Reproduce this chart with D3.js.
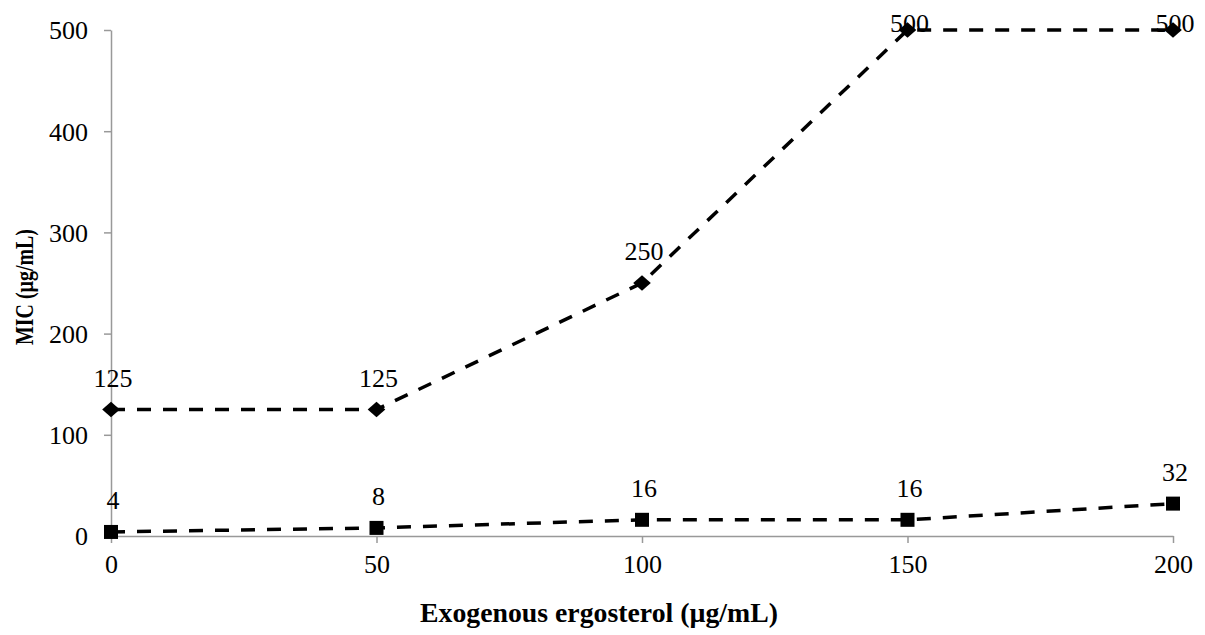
<!DOCTYPE html>
<html>
<head>
<meta charset="utf-8">
<script src="https://cdn.jsdelivr.net/npm/d3@7"></script>
<style>
  body { margin: 0; background: #fff; }
  svg text { font-family: "Liberation Serif", "Times New Roman", serif; }
</style>
</head>
<body>
<svg id="chart" width="1205" height="635"></svg>
<script>
// data
var ergosterol = [0, 50, 100, 150, 200];
var micHigh = [125, 125, 250, 500, 500];
var micLow = [4, 8, 16, 16, 32];
var xTicks = [0, 50, 100, 150, 200];
var yTicks = [0, 100, 200, 300, 400, 500];

var serif = "Liberation Serif, Times New Roman, serif";
var svg = d3.select("#chart");

var x = d3.scaleLinear().domain([0, 200]).range([111, 1173]);
var y = d3.scaleLinear().domain([0, 500]).range([536, 30]);

// axes
var gx = svg.append("g").attr("transform", "translate(0,536)")
    .call(d3.axisBottom(x).tickValues(xTicks).tickSize(7).tickPadding(12).tickSizeOuter(0));
var gy = svg.append("g").attr("transform", "translate(111,0)")
    .call(d3.axisLeft(y).tickValues(yTicks).tickSize(7).tickPadding(16).tickSizeOuter(0));

[gx, gy].forEach(function (g) {
    g.attr("font-family", serif).attr("font-size", 26);
    g.select(".domain").attr("stroke", "#999").attr("stroke-width", 1.5);
    g.selectAll(".tick line").attr("stroke", "#999").attr("stroke-width", 1.5);
    g.selectAll(".tick text").attr("fill", "#000");
});
gy.selectAll(".tick text").attr("dy", "0.34em");

// lines
var line = d3.line().x(function (d, i) { return x(ergosterol[i]); }).y(function (d) { return y(d); });

[micHigh, micLow].forEach(function (s) {
    svg.append("path").datum(s)
        .attr("d", line)
        .attr("fill", "none")
        .attr("stroke", "#000")
        .attr("stroke-width", 3.5)
        .attr("stroke-dasharray", "14,12");
});

// markers
svg.selectAll(".diamond").data(micHigh).enter()
    .append("path")
    .attr("d", d3.symbol().type(d3.symbolDiamond2).size(150))
    .attr("transform", function (d, i) { return `translate(${x(ergosterol[i])},${y(d)}) scale(1.15,1)`; })
    .attr("fill", "#000");

svg.selectAll(".square").data(micLow).enter()
    .append("rect")
    .attr("x", function (d, i) { return x(ergosterol[i]) - 7; })
    .attr("y", function (d) { return y(d) - 7; })
    .attr("width", 14).attr("height", 14)
    .attr("fill", "#000");

// data labels
[micHigh, micLow].forEach(function (s) {
    svg.append("g").selectAll("text").data(s).enter()
        .append("text")
        .attr("x", function (d, i) { return x(ergosterol[i]) + 2; })
        .attr("y", function (d) { return Math.max(y(d) - 23, 32); })
        .attr("text-anchor", "middle")
        .attr("font-family", serif)
        .attr("font-size", 26)
        .text(function (d) { return d; });
});

// axis titles
svg.append("text")
    .attr("x", 599).attr("y", 622)
    .attr("text-anchor", "middle")
    .attr("font-family", serif)
    .attr("font-size", 27).attr("font-weight", "bold")
    .attr("textLength", 358).attr("lengthAdjust", "spacingAndGlyphs")
    .text("Exogenous ergosterol (µg/mL)");

svg.append("text")
    .attr("transform", "translate(33,287) rotate(-90)")
    .attr("text-anchor", "middle")
    .attr("font-family", serif)
    .attr("font-size", 25).attr("font-weight", "bold")
    .attr("textLength", 116).attr("lengthAdjust", "spacingAndGlyphs")
    .text("MIC (µg/mL)");
</script>
</body>
</html>
